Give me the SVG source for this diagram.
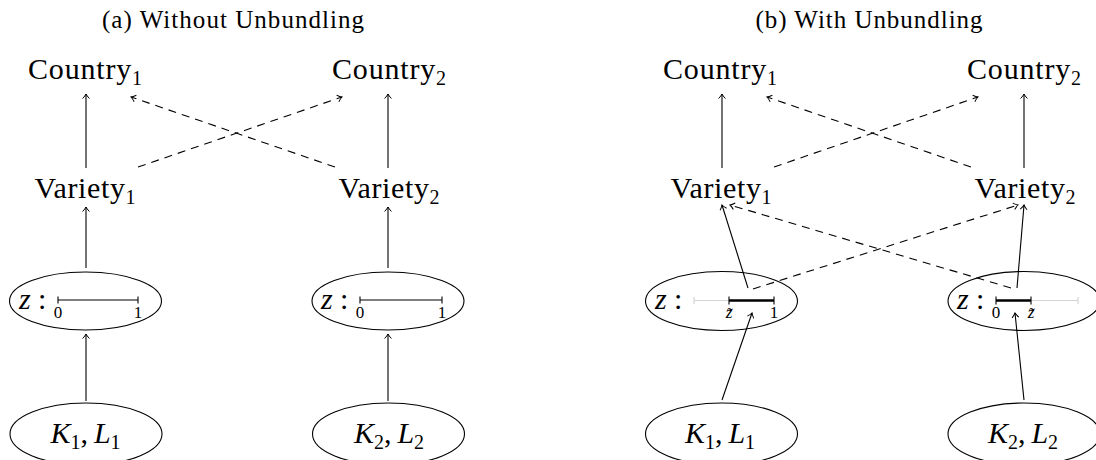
<svg xmlns="http://www.w3.org/2000/svg" width="1096" height="460" viewBox="0 0 1096 460">
<style>
text{font-family:"Liberation Serif","Times New Roman",serif;fill:#000}
.ttl{font-size:25px}
.lbl{font-size:30px}
.sub{font-size:20px}
.it{font-style:italic}
.num{font-size:17px}
.ell{fill:none;stroke:#000;stroke-width:1.1}
.edge{fill:none;stroke:#000;stroke-width:1.1}
.dash{stroke-dasharray:8 6}
.nl{stroke:#000;stroke-width:1.1;fill:none}
.thick{stroke:#000;stroke-width:2.6;fill:none}
.gray{stroke:#d4d4d4;stroke-width:1.2;fill:none}
</style>
<defs>
<marker id="ah" viewBox="-6 -6 12 12" refX="0" refY="0" markerWidth="12" markerHeight="12" markerUnits="userSpaceOnUse" orient="auto">
<path d="M-4.5,-3.4 Q-1.8,-0.8 0,0 Q-1.8,0.8 -4.5,3.4" fill="none" stroke="#000" stroke-width="1"/>
</marker>
</defs>
<rect width="1096" height="460" fill="#fff"/>

<g id="titles">
<text class="ttl" x="233" y="28" text-anchor="middle" textLength="262" lengthAdjust="spacing">(a) Without Unbundling</text>
<text class="ttl" x="869" y="28" text-anchor="middle" textLength="227" lengthAdjust="spacing">(b) With Unbundling</text>
</g>

<g id="connectors">
<!-- panel a -->
<line class="edge" x1="86" y1="168" x2="86" y2="94" marker-end="url(#ah)"/>
<line class="edge" x1="388" y1="168" x2="388" y2="94" marker-end="url(#ah)"/>
<line class="edge dash" x1="138" y1="167" x2="342" y2="97" marker-end="url(#ah)"/>
<line class="edge dash" x1="335" y1="167" x2="131" y2="97" marker-end="url(#ah)"/>
<line class="edge" x1="86" y1="268" x2="86" y2="207" marker-end="url(#ah)"/>
<line class="edge" x1="388" y1="268" x2="388" y2="207" marker-end="url(#ah)"/>
<line class="edge" x1="86" y1="401" x2="86" y2="334" marker-end="url(#ah)"/>
<line class="edge" x1="388" y1="401" x2="388" y2="334" marker-end="url(#ah)"/>
<!-- panel b -->
<line class="edge" x1="722" y1="168" x2="722" y2="94" marker-end="url(#ah)"/>
<line class="edge" x1="1024" y1="168" x2="1024" y2="94" marker-end="url(#ah)"/>
<line class="edge dash" x1="774" y1="167" x2="978" y2="97" marker-end="url(#ah)"/>
<line class="edge dash" x1="971" y1="167" x2="767" y2="97" marker-end="url(#ah)"/>
<line class="edge" x1="748" y1="288" x2="722" y2="205" marker-end="url(#ah)"/>
<line class="edge dash" x1="1011" y1="288" x2="730" y2="205" marker-end="url(#ah)"/>
<line class="edge dash" x1="753" y1="289" x2="1018" y2="205" marker-end="url(#ah)"/>
<line class="edge" x1="1017" y1="288" x2="1024" y2="205" marker-end="url(#ah)"/>
<line class="edge" x1="722" y1="400" x2="752" y2="313" marker-end="url(#ah)"/>
<line class="edge" x1="1024" y1="400" x2="1015" y2="313" marker-end="url(#ah)"/>
</g>

<!-- panel a nodes -->
<g id="a-country1"><text class="lbl" x="85" y="79" text-anchor="middle" textLength="114" lengthAdjust="spacing">Country<tspan class="sub" dy="6">1</tspan></text></g>
<g id="a-country2"><text class="lbl" x="389" y="79" text-anchor="middle" textLength="114" lengthAdjust="spacing">Country<tspan class="sub" dy="6">2</tspan></text></g>
<g id="a-variety1"><text class="lbl" x="85" y="198" text-anchor="middle" textLength="101" lengthAdjust="spacing">Variety<tspan class="sub" dy="6">1</tspan></text></g>
<g id="a-variety2"><text class="lbl" x="389" y="198" text-anchor="middle" textLength="101" lengthAdjust="spacing">Variety<tspan class="sub" dy="6">2</tspan></text></g>

<g id="a-z1">
<ellipse class="ell" cx="85.5" cy="301" rx="76" ry="29"/>
<text class="lbl it" x="19" y="309">z</text><text class="lbl" x="38" y="309">:</text>
<line class="nl" x1="58" y1="300" x2="138" y2="300"/>
<line class="nl" x1="58" y1="296.5" x2="58" y2="303.5"/>
<line class="nl" x1="138" y1="296.5" x2="138" y2="303.5"/>
<text class="num" x="58" y="318" text-anchor="middle">0</text>
<text class="num" x="138" y="318" text-anchor="middle">1</text>
</g>
<g id="a-z2">
<ellipse class="ell" cx="388" cy="301" rx="76" ry="29"/>
<text class="lbl it" x="321" y="309">z</text><text class="lbl" x="340" y="309">:</text>
<line class="nl" x1="360" y1="300" x2="442" y2="300"/>
<line class="nl" x1="360" y1="296.5" x2="360" y2="303.5"/>
<line class="nl" x1="442" y1="296.5" x2="442" y2="303.5"/>
<text class="num" x="360" y="318" text-anchor="middle">0</text>
<text class="num" x="442" y="318" text-anchor="middle">1</text>
</g>

<g id="a-kl1">
<ellipse class="ell" cx="86" cy="434" rx="76" ry="31"/>
<text class="lbl" x="85.5" y="443" text-anchor="middle"><tspan class="it">K</tspan><tspan class="sub" dy="6">1</tspan><tspan dy="-6">,</tspan><tspan class="it" dx="6">L</tspan><tspan class="sub" dy="6">1</tspan></text>
</g>
<g id="a-kl2">
<ellipse class="ell" cx="388.5" cy="434" rx="76" ry="31"/>
<text class="lbl" x="389" y="443" text-anchor="middle"><tspan class="it">K</tspan><tspan class="sub" dy="6">2</tspan><tspan dy="-6">,</tspan><tspan class="it" dx="6">L</tspan><tspan class="sub" dy="6">2</tspan></text>
</g>

<!-- panel b nodes -->
<g id="b-country1"><text class="lbl" x="720" y="79" text-anchor="middle" textLength="114" lengthAdjust="spacing">Country<tspan class="sub" dy="6">1</tspan></text></g>
<g id="b-country2"><text class="lbl" x="1024" y="79" text-anchor="middle" textLength="114" lengthAdjust="spacing">Country<tspan class="sub" dy="6">2</tspan></text></g>
<g id="b-variety1"><text class="lbl" x="721" y="198" text-anchor="middle" textLength="101" lengthAdjust="spacing">Variety<tspan class="sub" dy="6">1</tspan></text></g>
<g id="b-variety2"><text class="lbl" x="1025" y="198" text-anchor="middle" textLength="101" lengthAdjust="spacing">Variety<tspan class="sub" dy="6">2</tspan></text></g>

<g id="b-z1">
<ellipse class="ell" cx="721.5" cy="301" rx="76" ry="29.5"/>
<text class="lbl it" x="655" y="309">z</text><text class="lbl" x="674" y="309">:</text>
<line class="gray" x1="694" y1="300.5" x2="729" y2="300.5"/>
<line class="gray" x1="694" y1="297" x2="694" y2="304"/>
<line class="thick" x1="729" y1="300.5" x2="774" y2="300.5"/>
<line class="nl" x1="729" y1="296.5" x2="729" y2="304.5"/>
<line class="nl" x1="774" y1="296.5" x2="774" y2="304.5"/>
<text class="num it" x="729" y="318" text-anchor="middle">z̃</text>
<text class="num" x="774" y="318" text-anchor="middle">1</text>
</g>
<g id="b-z2">
<ellipse class="ell" cx="1024" cy="301" rx="76" ry="29.5"/>
<text class="lbl it" x="957" y="309">z</text><text class="lbl" x="976" y="309">:</text>
<line class="gray" x1="1031" y1="300.5" x2="1078" y2="300.5"/>
<line class="gray" x1="1078" y1="297" x2="1078" y2="304"/>
<line class="thick" x1="996" y1="300.5" x2="1031" y2="300.5"/>
<line class="nl" x1="996" y1="296.5" x2="996" y2="304.5"/>
<line class="nl" x1="1031" y1="296.5" x2="1031" y2="304.5"/>
<text class="num" x="996" y="318" text-anchor="middle">0</text>
<text class="num it" x="1031" y="318" text-anchor="middle">z̃</text>
</g>

<g id="b-kl1">
<ellipse class="ell" cx="721.5" cy="434" rx="76" ry="31"/>
<text class="lbl" x="720" y="443" text-anchor="middle"><tspan class="it">K</tspan><tspan class="sub" dy="6">1</tspan><tspan dy="-6">,</tspan><tspan class="it" dx="6">L</tspan><tspan class="sub" dy="6">1</tspan></text>
</g>
<g id="b-kl2">
<ellipse class="ell" cx="1024" cy="434" rx="76" ry="31"/>
<text class="lbl" x="1023" y="443" text-anchor="middle"><tspan class="it">K</tspan><tspan class="sub" dy="6">2</tspan><tspan dy="-6">,</tspan><tspan class="it" dx="6">L</tspan><tspan class="sub" dy="6">2</tspan></text>
</g>
</svg>
